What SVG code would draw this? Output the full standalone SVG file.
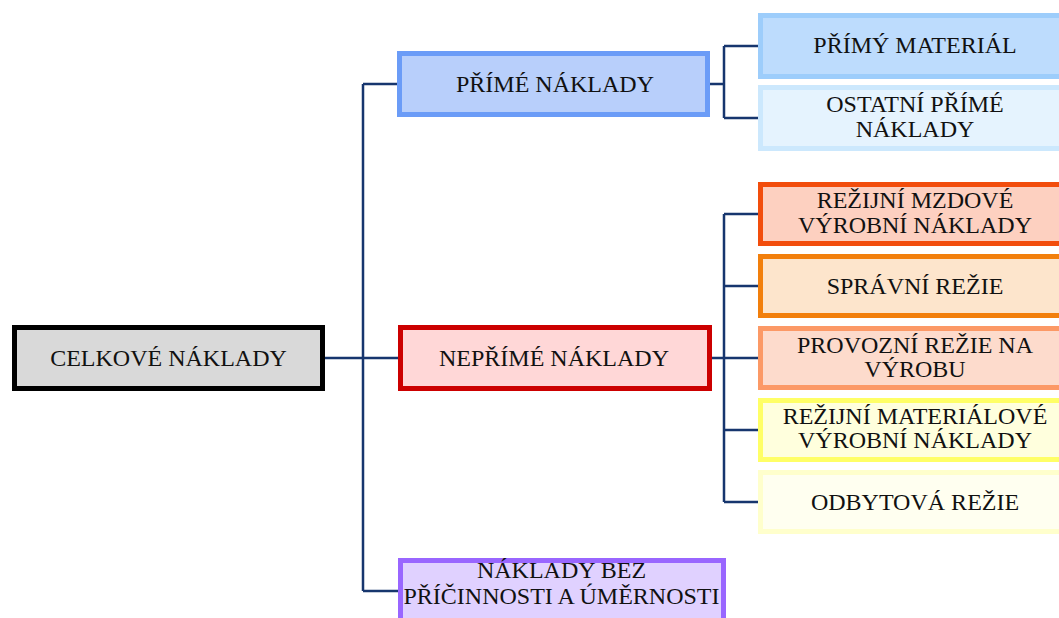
<svg xmlns="http://www.w3.org/2000/svg" width="1059" height="618" viewBox="0 0 1059 618">
<style>
text{font-family:"Liberation Serif","Times New Roman",serif;font-size:24px;fill:#111;text-anchor:middle}
.box{stroke-width:5}
.conn{fill:none;stroke:#17366e;stroke-width:2.5}
</style>
<rect width="1059" height="618" fill="#fff"/>
<g id="connectors" class="conn">
<path d="M325 358H363M363 84V591M363 84H399M363 358H399M363 591H399"/>
<path d="M710 84H724M724 46V118M724 46H760M724 118H760"/>
<path d="M712 358H724M724 214V502M724 214H760M724 286H760M724 358H760M724 430H760M724 502H760"/>
</g>
<g id="celkove"><rect class="box" x="14.5" y="327.5" width="308" height="61" fill="#d9d9d9" stroke="#000"/><text x="168.5" y="366">CELKOVÉ NÁKLADY</text></g>
<g id="prime"><rect class="box" x="399.5" y="53.5" width="308" height="61" fill="#b8cffb" stroke="#6b9cf7"/><text x="555" y="92">PŘÍMÉ NÁKLADY</text></g>
<g id="neprime"><rect class="box" x="400.5" y="327.5" width="309" height="61" fill="#ffd7d7" stroke="#cc0000"/><text x="554" y="366">NEPŘÍMÉ NÁKLADY</text></g>
<g id="bez"><rect class="box" x="400.5" y="560.5" width="323" height="61" fill="#e0d1ff" stroke="#9966ff"/><text x="561.5" y="578">NÁKLADY BEZ</text><text x="561.5" y="604">PŘÍČINNOSTI A ÚMĚRNOSTI</text></g>
<g id="primy-material"><rect class="box" x="760.5" y="15.5" width="320" height="61" fill="#bddcfd" stroke="#9dcdfb"/><text x="915" y="53">PŘÍMÝ MATERIÁL</text></g>
<g id="ostatni"><rect class="box" x="760.5" y="87.5" width="320" height="61" fill="#e5f3fe" stroke="#cce8fd"/><text x="915" y="112">OSTATNÍ PŘÍMÉ</text><text x="915" y="137">NÁKLADY</text></g>
<g id="mzdove"><rect class="box" x="760.5" y="184.5" width="320" height="59" fill="#fdd0c0" stroke="#f24d0c"/><text x="915" y="208">REŽIJNÍ MZDOVÉ</text><text x="915" y="233">VÝROBNÍ NÁKLADY</text></g>
<g id="spravni"><rect class="box" x="760.5" y="256.5" width="320" height="59" fill="#fde5cc" stroke="#f27f0c"/><text x="915" y="294">SPRÁVNÍ REŽIE</text></g>
<g id="provozni"><rect class="box" x="760.5" y="328.5" width="320" height="59" fill="#fddbcc" stroke="#fc9966"/><text x="915" y="353">PROVOZNÍ REŽIE NA</text><text x="915" y="377">VÝROBU</text></g>
<g id="materialove"><rect class="box" x="760.5" y="400.5" width="320" height="59" fill="#ffffdd" stroke="#ffff66"/><text x="915" y="424">REŽIJNÍ MATERIÁLOVÉ</text><text x="915" y="448">VÝROBNÍ NÁKLADY</text></g>
<g id="odbytova"><rect class="box" x="760.5" y="472.5" width="320" height="59" fill="#fffff0" stroke="#ffffcc"/><text x="915" y="510">ODBYTOVÁ REŽIE</text></g>
</svg>
